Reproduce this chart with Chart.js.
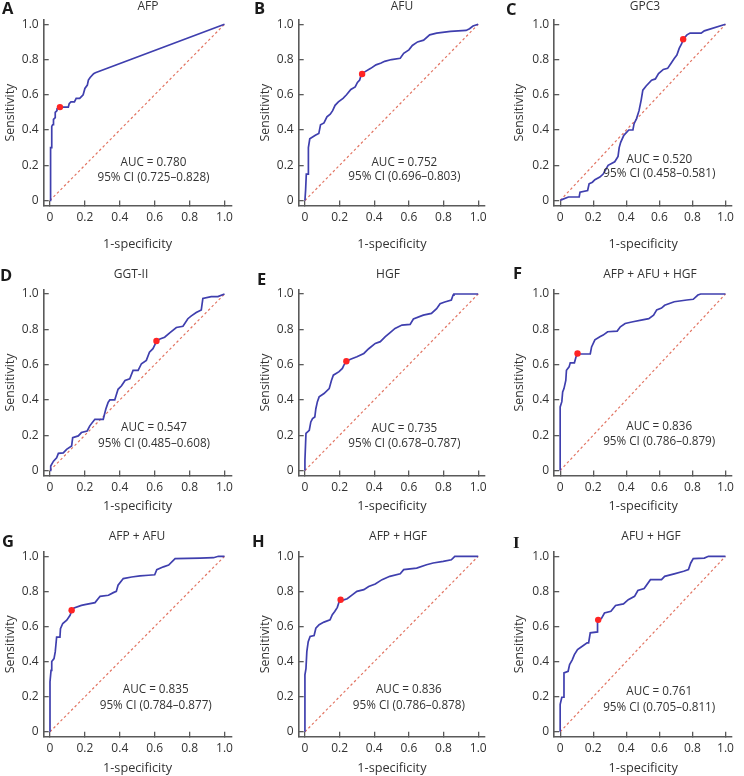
<!DOCTYPE html>
<html>
<head>
<meta charset="utf-8">
<script src="https://cdn.jsdelivr.net/npm/chart.js@4.4.0/dist/chart.umd.min.js"></script>
<style>
  html, body { margin: 0; padding: 0; background: #fff; }
  #fig { position: relative; width: 744px; height: 776px; overflow: hidden; }
  .cell { position: absolute; }
  .cell canvas { display: block; }
</style>
</head>
<body>
<div id="fig"></div>
<script>
// ---- data ----
const panelLetters = ['A', 'B', 'C', 'D', 'E', 'F', 'G', 'H', 'I'];
const markerNames = ['AFP', 'AFU', 'GPC3', 'GGT-II', 'HGF', 'AFP + AFU + HGF', 'AFP + AFU', 'AFP + HGF', 'AFU + HGF'];
const aucLabels = ['AUC = 0.780', 'AUC = 0.752', 'AUC = 0.520', 'AUC = 0.547', 'AUC = 0.735',
                   'AUC = 0.836', 'AUC = 0.835', 'AUC = 0.836', 'AUC = 0.761'];
const ciLabels = ['95% CI (0.725–0.828)', '95% CI (0.696–0.803)', '95% CI (0.458–0.581)',
                  '95% CI (0.485–0.608)', '95% CI (0.678–0.787)', '95% CI (0.786–0.879)',
                  '95% CI (0.784–0.877)', '95% CI (0.786–0.878)', '95% CI (0.705–0.811)'];
const tickValues = [0, 0.2, 0.4, 0.6, 0.8, 1];
const tickLabels = ['0', '0.2', '0.4', '0.6', '0.8', '1.0'];

// ROC curves as [1-specificity, sensitivity]
const rocAFP = [[0,0],[0,0.28],[0.005,0.28],[0.005,0.30],[0.01,0.30],[0.01,0.42],[0.015,0.43],[0.02,0.43],
  [0.02,0.46],[0.03,0.47],[0.03,0.50],[0.04,0.51],[0.04,0.52],[0.05,0.53],[0.105,0.53],[0.11,0.55],[0.12,0.56],
  [0.14,0.56],[0.15,0.58],[0.17,0.58],[0.18,0.59],[0.19,0.60],[0.2,0.636],[0.214,0.655],[0.22,0.683],
  [0.23,0.698],[0.25,0.72],[0.26,0.725],[1,1]];
const rocAFU = [[0,0],[0.004,0.06],[0.008,0.15],[0.02,0.15],[0.02,0.30],[0.028,0.35],[0.06,0.37],[0.08,0.38],
  [0.09,0.43],[0.11,0.44],[0.127,0.475],[0.146,0.49],[0.16,0.51],[0.174,0.54],[0.193,0.56],[0.22,0.58],
  [0.24,0.60],[0.265,0.63],[0.29,0.645],[0.303,0.67],[0.316,0.684],[0.326,0.718],[0.345,0.73],[0.38,0.75],
  [0.41,0.77],[0.44,0.78],[0.46,0.79],[0.50,0.80],[0.55,0.807],[0.57,0.835],[0.60,0.855],[0.62,0.88],
  [0.65,0.90],[0.685,0.91],[0.72,0.94],[0.76,0.95],[0.84,0.96],[0.93,0.965],[0.95,0.975],[0.97,0.99],[1,1]];
const rocGPC3 = [[0,0],[0.01,0.005],[0.05,0.02],[0.115,0.02],[0.12,0.047],[0.166,0.057],[0.175,0.095],
  [0.195,0.104],[0.21,0.118],[0.24,0.133],[0.26,0.15],[0.29,0.2],[0.33,0.22],[0.35,0.25],[0.357,0.30],
  [0.366,0.33],[0.385,0.37],[0.415,0.40],[0.44,0.40],[0.447,0.436],[0.462,0.465],[0.477,0.51],[0.49,0.57],
  [0.50,0.626],[0.52,0.65],[0.553,0.683],[0.576,0.69],[0.595,0.72],[0.624,0.744],[0.65,0.75],[0.67,0.778],
  [0.69,0.806],[0.706,0.825],[0.72,0.863],[0.735,0.89],[0.744,0.915],[0.767,0.94],[0.786,0.95],[0.853,0.95],
  [0.872,0.963],[1,1]];
const rocGGT = [[0,0],[0.004,0.025],[0.02,0.053],[0.038,0.072],[0.048,0.097],[0.076,0.10],[0.095,0.12],
  [0.124,0.139],[0.13,0.186],[0.162,0.196],[0.18,0.215],[0.213,0.224],[0.228,0.253],[0.257,0.29],[0.305,0.29],
  [0.32,0.348],[0.333,0.386],[0.343,0.40],[0.371,0.40],[0.39,0.46],[0.41,0.48],[0.43,0.51],[0.457,0.52],
  [0.476,0.567],[0.505,0.567],[0.524,0.605],[0.552,0.624],[0.57,0.67],[0.59,0.69],[0.60,0.71],[0.61,0.734],
  [0.63,0.745],[0.657,0.755],[0.686,0.78],[0.724,0.81],[0.762,0.817],[0.79,0.86],[0.81,0.876],[0.838,0.895],
  [0.867,0.91],[0.876,0.975],[0.924,0.985],[0.962,0.985],[1,1]];
const rocHGF = [[0,0],[0,0.057],[0.006,0.21],[0.025,0.227],[0.034,0.275],[0.044,0.294],[0.057,0.303],
  [0.063,0.35],[0.072,0.39],[0.082,0.417],[0.11,0.436],[0.14,0.464],[0.153,0.51],[0.164,0.54],[0.197,0.56],
  [0.216,0.578],[0.225,0.597],[0.239,0.619],[0.263,0.63],[0.30,0.644],[0.34,0.663],[0.368,0.69],[0.406,0.72],
  [0.435,0.73],[0.464,0.758],[0.49,0.78],[0.52,0.805],[0.56,0.824],[0.607,0.828],[0.626,0.858],[0.683,0.88],
  [0.73,0.89],[0.76,0.917],[0.78,0.945],[0.807,0.955],[0.845,0.966],[0.855,0.994],[0.86,1],[1,1]];
const rocAfpAfuHgf = [[0,0],[0,0.36],[0.01,0.39],[0.015,0.445],[0.023,0.464],[0.034,0.51],[0.038,0.568],
  [0.054,0.587],[0.061,0.61],[0.086,0.61],[0.096,0.644],[0.105,0.66],[0.182,0.66],[0.19,0.70],[0.21,0.74],
  [0.24,0.758],[0.26,0.767],[0.287,0.786],[0.345,0.79],[0.364,0.814],[0.393,0.833],[0.44,0.843],[0.49,0.852],
  [0.536,0.86],[0.565,0.88],[0.584,0.91],[0.613,0.92],[0.632,0.936],[0.69,0.956],[0.766,0.966],[0.805,0.97],
  [0.833,0.994],[0.85,1],[1,1]];
const rocAfpAfu = [[0,0],[0,0.285],[0.006,0.35],[0.01,0.40],[0.023,0.417],[0.03,0.455],[0.038,0.54],
  [0.057,0.54],[0.06,0.588],[0.073,0.617],[0.096,0.636],[0.115,0.664],[0.124,0.69],[0.138,0.706],[0.18,0.72],
  [0.2,0.725],[0.258,0.736],[0.287,0.772],[0.335,0.778],[0.363,0.793],[0.38,0.80],[0.39,0.835],[0.42,0.873],
  [0.468,0.882],[0.516,0.888],[0.564,0.892],[0.6,0.895],[0.612,0.924],[0.65,0.94],[0.68,0.95],[0.717,0.987],
  [0.86,0.99],[0.937,0.992],[0.965,1],[1,1]];
const rocAfpHgf = [[0,0],[0,0.324],[0.006,0.36],[0.011,0.457],[0.019,0.514],[0.03,0.543],[0.053,0.549],
  [0.063,0.59],[0.082,0.61],[0.11,0.625],[0.145,0.638],[0.158,0.667],[0.172,0.686],[0.187,0.709],[0.197,0.74],
  [0.206,0.75],[0.22,0.75],[0.244,0.758],[0.273,0.78],[0.30,0.80],[0.34,0.81],[0.368,0.828],[0.406,0.842],
  [0.445,0.867],[0.49,0.886],[0.55,0.90],[0.57,0.924],[0.645,0.933],[0.702,0.952],[0.74,0.962],[0.798,0.971],
  [0.845,0.98],[0.865,1],[1,1]];
const rocAfuHgf = [[0,0],[0,0.156],[0.01,0.197],[0.019,0.197],[0.023,0.336],[0.048,0.345],[0.057,0.383],
  [0.073,0.41],[0.086,0.44],[0.105,0.469],[0.125,0.482],[0.163,0.507],[0.172,0.507],[0.182,0.564],
  [0.226,0.569],[0.226,0.63],[0.23,0.638],[0.249,0.645],[0.268,0.677],[0.307,0.687],[0.335,0.72],[0.383,0.729],
  [0.412,0.753],[0.45,0.772],[0.47,0.805],[0.508,0.816],[0.546,0.867],[0.613,0.867],[0.632,0.886],[0.69,0.90],
  [0.747,0.915],[0.776,0.924],[0.79,0.962],[0.805,0.987],[0.872,0.99],[0.897,1],[1,1]];
const rocCurves = [rocAFP, rocAFU, rocGPC3, rocGGT, rocHGF, rocAfpAfuHgf, rocAfpAfu, rocAfpHgf, rocAfuHgf];

// optimal cut-off (red dot)
const cutoffs = [[0.057,0.53],[0.33,0.718],[0.744,0.915],[0.61,0.734],[0.239,0.619],
                 [0.105,0.663],[0.124,0.693],[0.206,0.752],[0.23,0.638]];

// ---- layout (page pixels) ----
const colLeft = [0, 247, 497], colRight = [247, 497, 744];
const rowTop = [0, 256, 516], rowBottom = [256, 516, 776];
const zeroX = [50, 305, 560.5], oneX = [224.5, 480.3, 734.7];
const zeroY = [200.5, 470.5, 731.8], oneY = [24.3, 294, 556.3];
const X_MIN = -0.036, X_MAX = 1.04, Y_MIN = -0.028, Y_MAX = 1.025;
const yTitleX = [10, 265, 519];
const xTitleY = [244, 506, 770];
const letterPos = [[2,9],[254,9],[506,10],[0,276],[257,280],[513,274],[2,542],[252,542],[513,544]];
const titlePos = [[148,7],[402,7],[645,7],[131,275],[388,275],[650,275],[137,537],[398,537],[651,537]];
const aucPos = [[0.593,0.213,0.128],[0.574,0.217,0.135],[0.60,0.23,0.15],[0.596,0.242,0.154],
                [0.574,0.239,0.15],[0.599,0.248,0.163],[0.606,0.238,0.149],[0.60,0.242,0.147],[0.599,0.228,0.137]];

const FONT = "'Open Sans', 'Noto Sans', sans-serif";
const TEXT = '#333';
const AXIS = '#5a5a5a';
const CURVE = '#3f3fae';

const panelText = {
  id: 'panelText',
  afterDraw(chart, args, opts) {
    const {ctx} = chart;
    const i = opts.index;
    const ox = opts.ox, oy = opts.oy;
    ctx.save();
    ctx.textBaseline = 'middle';
    // panel letter
    ctx.textAlign = 'left';
    ctx.font = panelLetters[i] === 'I' ? "bold 17px 'Liberation Serif', serif" : 'bold 16.5px ' + FONT;
    ctx.fillStyle = '#1a1a1a';
    ctx.fillText(panelLetters[i], letterPos[i][0] - ox, letterPos[i][1] - oy);
    // title
    ctx.fillStyle = TEXT;
    ctx.textAlign = 'center';
    ctx.font = '12px ' + FONT;
    ctx.fillText(markerNames[i], titlePos[i][0] - ox, titlePos[i][1] - oy);
    // AUC annotation
    const xs = chart.scales.x, ys = chart.scales.y;
    ctx.font = '11.7px ' + FONT;
    const ax = xs.getPixelForValue(aucPos[i][0]);
    ctx.fillText(aucLabels[i], ax, ys.getPixelForValue(aucPos[i][1]));
    ctx.fillText(ciLabels[i], ax, ys.getPixelForValue(aucPos[i][2]));
    ctx.restore();
  }
};

const fig = document.getElementById('fig');

rocCurves.forEach((curve, i) => {
  const r = Math.floor(i / 3), c = i % 3;
  const w = colRight[c] - colLeft[c], h = rowBottom[r] - rowTop[r];
  const cell = document.createElement('div');
  cell.className = 'cell';
  cell.style.left = colLeft[c] + 'px';
  cell.style.top = rowTop[r] + 'px';
  cell.style.width = w + 'px';
  cell.style.height = h + 'px';
  const canvas = document.createElement('canvas');
  canvas.width = w; canvas.height = h;
  canvas.style.width = w + 'px'; canvas.style.height = h + 'px';
  cell.appendChild(canvas);
  fig.appendChild(cell);

  // chart area in page px
  const sx = oneX[c] - zeroX[c], sy = zeroY[r] - oneY[r];
  const L = zeroX[c] + X_MIN * sx, R = zeroX[c] + X_MAX * sx;
  const T = zeroY[r] - Y_MAX * sy, B = zeroY[r] - Y_MIN * sy;

  const axisCommon = {
    type: 'linear',
    afterBuildTicks: s => { s.ticks = tickValues.map(v => ({value: v})); },
    grid: { drawOnChartArea: false, drawTicks: true, tickLength: -5, color: AXIS, lineWidth: 1.3 },
    border: { display: true, color: AXIS, width: 1.6 },
    ticks: {
      color: TEXT, padding: 10, font: { size: 12, family: FONT },
      callback: (v, idx) => tickLabels[idx]
    }
  };

  new Chart(canvas, {
    type: 'scatter',
    data: {
      datasets: [
        { data: [cutoffs[i]].map(p => ({x: p[0], y: p[1]})), pointRadius: 3.2,
          backgroundColor: '#ff2424', borderWidth: 0, order: 1 },
        { data: curve.map(p => ({x: p[0], y: p[1]})), showLine: true, pointRadius: 0,
          borderColor: CURVE, borderWidth: 1.7, order: 2 },
        { data: [{x: 0, y: 0}, {x: 1, y: 1}], showLine: true, pointRadius: 0,
          borderColor: '#e27462', borderWidth: 1.2, borderDash: [2.5, 2.5], order: 3 }
      ]
    },
    options: {
      responsive: false,
      animation: false,
      layout: {
        autoPadding: false,
        padding: { left: 0, top: T - rowTop[r], right: colRight[c] - R, bottom: 0 }
      },
      plugins: {
        legend: { display: false },
        tooltip: { enabled: false },
        panelText: { index: i, ox: colLeft[c], oy: rowTop[r] }
      },
      scales: {
        x: Object.assign({}, axisCommon, {
          min: X_MIN, max: X_MAX,
          afterFit: s => { s.height = rowBottom[r] - B; },
          title: { display: true, text: '1-specificity', color: TEXT, font: { size: 12.7, family: FONT },
                   padding: { top: 0, bottom: Math.max(0, (rowBottom[r] - xTitleY[r]) - 7.6) } }
        }),
        y: Object.assign({}, axisCommon, {
          min: Y_MIN, max: Y_MAX,
          afterFit: s => { s.width = L - colLeft[c]; },
          title: { display: true, text: 'Sensitivity', color: TEXT, font: { size: 12.4, family: FONT },
                   padding: { top: Math.max(0, (yTitleX[c] - colLeft[c]) - 7.4), bottom: 0 } }
        })
      }
    },
    plugins: [panelText]
  });
});
</script>
</body>
</html>
